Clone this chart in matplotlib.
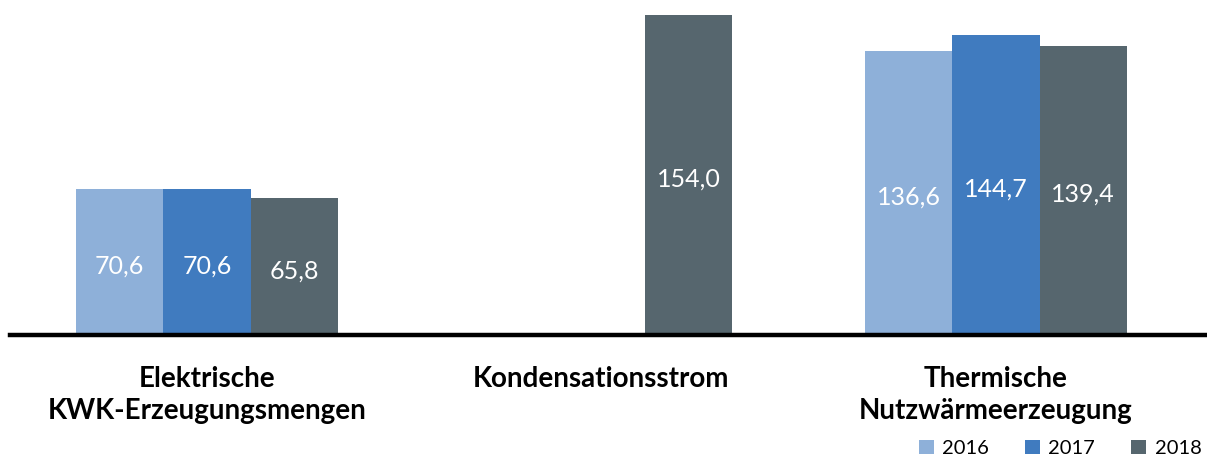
import matplotlib.pyplot as plt
import numpy as np

plt.rcParams['font.family'] = ['Lato', 'DejaVu Sans']

categories = ["Elektrische\nKWK-Erzeugungsmengen", "Kondensationsstrom",
              "Thermische\nNutzwärmeerzeugung"]
years = ["2016", "2017", "2018"]
values = {
    "2016": [70.6, np.nan, 136.6],
    "2017": [70.6, np.nan, 144.7],
    "2018": [65.8, 154.0, 139.4],
}
colors = {"2016": "#8eb0d9", "2017": "#407bbf", "2018": "#56666e"}

fig = plt.figure(figsize=(12.07, 4.59), dpi=100)
ax = fig.add_axes([0.008, 0.27, 0.992, 0.73])

x = np.arange(len(categories))
width = 0.221
for i, year in enumerate(years):
    pos = x + (i - 1) * width
    vals = np.array(values[year])
    ax.bar(pos, vals, width, color=colors[year], label=year)
    for p, v in zip(pos, vals):
        if not np.isnan(v):
            ax.text(p, v / 2 - 2, "{:.1f}".format(v).replace(".", ","),
                    ha="center", va="center", color="white", fontsize=18)

ax.set_xlim(-0.5, 2.535)
ax.set_ylim(0, 161.4)
ax.axhline(0, color="black", lw=3.2, clip_on=False)
for s in ax.spines.values():
    s.set_visible(False)
ax.set_yticks([])
ax.set_xticks(x)
ax.set_xticklabels(categories, fontsize=20, fontweight="bold", linespacing=1.3)
ax.tick_params(axis="x", length=0, pad=22)

ax.legend(loc="lower right", bbox_to_anchor=(0.997, -0.37), ncol=3, frameon=False,
          fontsize=14.5, handlelength=0.75, handleheight=0.75, handletextpad=0.4,
          columnspacing=1.8, borderaxespad=0, borderpad=0.1)

plt.savefig("out.png", dpi=100)
